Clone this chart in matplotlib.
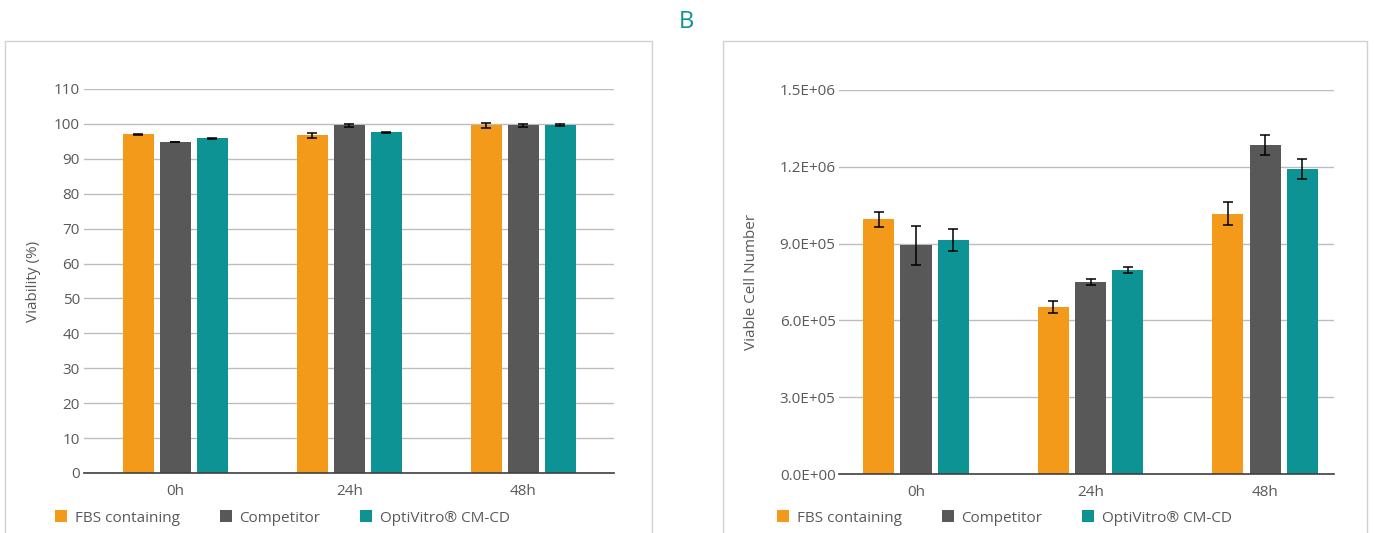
import numpy as np
import matplotlib
matplotlib.use('agg')
import matplotlib.pyplot as plt
from matplotlib.patches import Rectangle, Patch

plt.rcParams['font.family'] = ['Open Sans', 'DejaVu Sans']

times = ['0h', '24h', '48h']
series = ['FBS containing', 'Competitor', 'OptiVitro® CM-CD']
colors = ['#F39A1B', '#575857', '#0D9393']

# viability (%)
via_fbs = [97.0, 96.7, 99.6]
via_comp = [94.8, 99.6, 99.6]
via_opti = [95.9, 97.6, 99.7]
via_fbs_err = [0.2, 0.6, 0.8]
via_comp_err = [0.1, 0.4, 0.4]
via_opti_err = [0.1, 0.1, 0.2]

# viable cell number
cell_fbs = [995000, 652000, 1016000]
cell_comp = [894000, 750000, 1285000]
cell_opti = [914000, 797000, 1191000]
cell_fbs_err = [29000, 25000, 45000]
cell_comp_err = [76000, 12000, 40000]
cell_opti_err = [43000, 12000, 38000]

cell_ticks = [0, 300000, 600000, 900000, 1200000, 1500000]
cell_tick_labels = ['0.0E+00', '3.0E+05', '6.0E+05', '9.0E+05', '1.2E+06', '1.5E+06']
via_ticks = list(range(0, 111, 10))

fig = plt.figure(figsize=(13.75, 5.33), dpi=100)

# panel frames
for x0, x1 in [(5, 652), (723, 1367)]:
    fig.patches.append(Rectangle((x0 / 1375, -0.1), (x1 - x0) / 1375, 1.1 - 41 / 533,
                                 transform=fig.transFigure, fill=False,
                                 edgecolor='#d0d0d0', lw=1.0, clip_on=False))

fig.text(686 / 1375, 1 - 22 / 533, 'B', color='#0D9393', fontsize=17,
         ha='center', va='center')

txt = '#595959'


def draw(ax, vals, errs, xl, ylim, yticks, ylabels, ylab, pad):
    x = np.arange(len(times))
    w = 0.178
    off = 0.2126
    for i, (v, e) in enumerate(zip(vals, errs)):
        ax.bar(x + (i - 1) * off, v, w, color=colors[i], zorder=3,
               yerr=e, error_kw=dict(ecolor='black', elinewidth=1.1,
                                     capsize=3.5, capthick=1.1, zorder=4))
    ax.set_xlim(*xl)
    ax.set_ylim(*ylim)
    ax.set_yticks(yticks)
    ax.set_yticklabels(ylabels)
    ax.set_xticks(x)
    ax.set_xticklabels(times)
    ax.grid(axis='y', color='#bdbdbd', lw=1.0, zorder=0)
    for s in ['top', 'right', 'left']:
        ax.spines[s].set_visible(False)
    ax.spines['bottom'].set_color('#404040')
    ax.spines['bottom'].set_linewidth(1.2)
    ax.spines['bottom'].set_zorder(5)
    ax.tick_params(axis='both', length=0, labelsize=11, colors=txt)
    ax.tick_params(axis='y', pad=pad)
    ax.tick_params(axis='x', pad=8)
    ax.set_ylabel(ylab, fontsize=11, color=txt)


ax1 = fig.add_axes([84 / 1375, 1 - 473 / 533, 530 / 1375, 384 / 533])
draw(ax1, [via_fbs, via_comp, via_opti], [via_fbs_err, via_comp_err, via_opti_err],
     (-0.525, 2.52), (0, 110), via_ticks, [str(v) for v in via_ticks],
     'Viability (%)', 3)
ax1.yaxis.set_label_coords(-(84 - 41) / 530, 0.5)

ax2 = fig.add_axes([839 / 1375, 1 - 474 / 533, 495 / 1375, 384 / 533])
draw(ax2, [cell_fbs, cell_comp, cell_opti], [cell_fbs_err, cell_comp_err, cell_opti_err],
     (-0.441, 2.395), (0, 1500000), cell_ticks, cell_tick_labels,
     'Viable Cell Number', 2.5)
ax2.yaxis.set_label_coords(-(839 - 759) / 495, 0.5)

handles = [Patch(facecolor=c, edgecolor='none') for c in colors]
for xa in [55, 777]:
    fig.legend(handles, series, loc='center left', bbox_to_anchor=(xa / 1375, 1 - 518 / 533),
               ncol=3, frameon=False, fontsize=11, handlelength=0.8, handleheight=0.8,
               handletextpad=0.5, columnspacing=2.6, borderpad=0, borderaxespad=0,
               labelcolor=txt)

fig.savefig('out.png', dpi=100)
